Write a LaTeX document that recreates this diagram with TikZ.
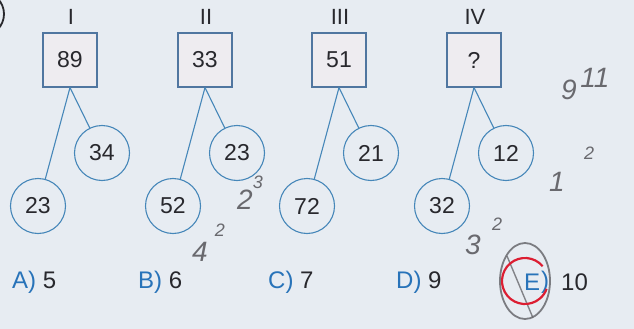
\documentclass[tikz,border=0pt]{standalone}
\usepackage{fontspec}
\setmainfont{Liberation Sans}
\definecolor{bg}{RGB}{231,236,242}
\definecolor{ln}{RGB}{70,135,185}
\definecolor{bx}{RGB}{80,118,160}
\definecolor{boxfill}{RGB}{238,236,240}
\definecolor{lab}{RGB}{40,115,185}
\definecolor{ink}{RGB}{40,40,45}
\definecolor{pen}{RGB}{105,105,110}
\definecolor{redpen}{RGB}{220,30,50}
\begin{document}
\begin{tikzpicture}[x=1pt,y=-1pt,
  sq/.style={draw=bx, line width=1.1pt, fill=boxfill, minimum size=54pt, inner sep=0pt, font=\fontsize{23}{23}\selectfont, text=ink},
  leaf/.style={circle, draw=ln, line width=1.1pt, minimum size=55pt, inner sep=0pt, font=\fontsize{23}{23}\selectfont, text=ink},
  roman/.style={font=\fontsize{22}{22}\selectfont, text=ink},
  edge/.style={draw=ln, line width=1.1pt},
  ans/.style={anchor=west, font=\fontsize{24}{24}\selectfont, text=ink, inner sep=0pt},
  hand/.style={text=pen, font=\itshape\fontsize{28}{28}\selectfont},
  handsm/.style={text=pen, font=\itshape\fontsize{18}{18}\selectfont}]
\fill[bg] (0,0) rectangle (634,329);
\useasboundingbox (0,0) rectangle (634,329);
% partial circled number at top-left
\begin{scope}
\clip (0,0) rectangle (634,329);
\draw[ink, line width=1.8pt] (-18,14) circle[radius=22];
\end{scope}
% panels
\foreach \i/\x/\r/\t/\a/\b in {1/70/I/89/23/34, 2/205/II/33/52/23, 3/339/III/51/72/21, 4/474/IV/?/32/12}{
  \node[roman] (r\i) at (\x+1,17) {\r};
  \node[sq] (s\i) at (\x,60) {\t};
  \node[leaf] (a\i) at (\x-32,206) {\a};
  \node[leaf] (b\i) at (\x+32,153) {\b};
  \draw[edge] (s\i.south) -- (a\i);
  \draw[edge] (s\i.south) -- (b\i);
}
% answers
\node[ans] (A) at (12,282) {\textcolor{lab}{A)} 5};
\node[ans] (B) at (138,282) {\textcolor{lab}{B)} 6};
\node[ans] (C) at (268,282) {\textcolor{lab}{C)} 7};
\node[ans] (D) at (396,282) {\textcolor{lab}{D)} 9};
\node[ans] (E) at (524,282) {\textcolor{lab}{E}};
\node[ans] (E2) at (541,282) {\textcolor{lab}{)}};
\node[ans] (E3) at (561,282) {10};
% pen marks round E
\coordinate (ec) at (525,281);
\draw[pen, line width=1.8pt, opacity=0.85] (ec) ellipse[x radius=25, y radius=38];
\draw[pen, line width=1.4pt, opacity=0.8] (507,256) -- (533,318);
\draw[redpen, line width=2.2pt] (ec) ++(-40:23) arc[start angle=-40, end angle=-340, radius=23];
% handwritten notes
\node[hand] (h1) at (569,90) {9};
\node[hand] (h2) at (595,78) {11};
\node[hand] (h3) at (557,182) {1};
\node[handsm] (h4) at (589,153) {2};
\node[hand] (h5) at (473,245) {3};
\node[handsm] (h6) at (497,224) {2};
\node[hand] (h7) at (200,252) {4};
\node[handsm] (h8) at (220,230) {2};
\node[hand] (h9) at (245,200) {2};
\node[handsm] (h10) at (258,182) {3};
\end{tikzpicture}
\end{document}
